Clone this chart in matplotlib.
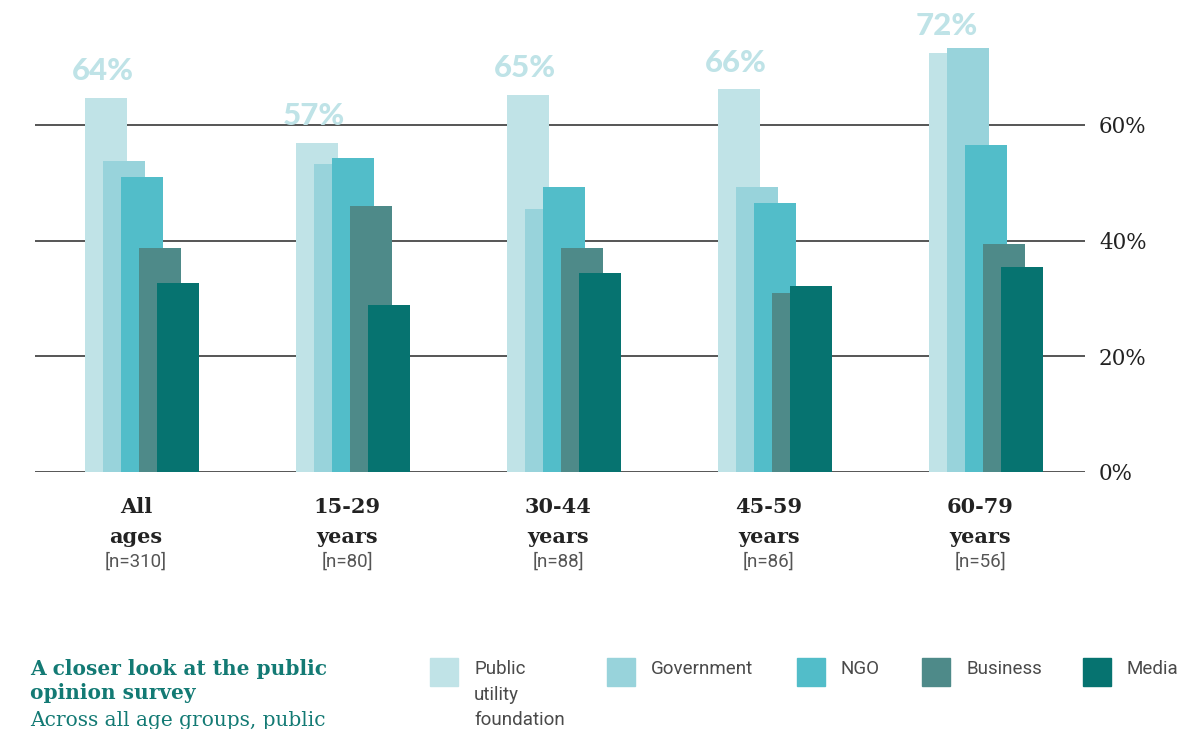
import numpy as np
import matplotlib.pyplot as plt

# data
groups = ["All\nages", "15-29\nyears", "30-44\nyears", "45-59\nyears", "60-79\nyears"]
sizes = ["[n=310]", "[n=80]", "[n=88]", "[n=86]", "[n=56]"]
series = ["Public\nutility\nfoundation", "Government", "NGO", "Business", "Media"]
public = [64.7, 56.9, 65.2, 66.2, 72.5]
government = [53.8, 53.3, 45.5, 49.3, 73.3]
ngo = [51.0, 54.3, 49.3, 46.5, 56.5]
business = [38.7, 46.0, 38.7, 31.0, 39.4]
media = [32.7, 28.9, 34.4, 32.2, 35.4]
top_labels = ["64%", "57%", "65%", "66%", "72%"]

colors = ["#c0e3e7", "#98d3db", "#52bdc9", "#4e8a89", "#067370"]
teal = "#137a74"
gap = 211.0  # px between groups

fig = plt.figure(figsize=(11.97, 7.29), dpi=100)
ax = fig.add_axes([35/1197, 1 - 472/729, 1050/1197, (472 - 9.3)/729])

x = np.arange(len(groups))
w = 42/gap
step = 18/gap
start = -57/gap
values = [public, government, ngo, business, media]
for k, vals in enumerate(values):
    ax.bar(x + start + k*step, vals, width=w, align="edge", color=colors[k],
           zorder=2 + k, linewidth=0)

# labels above the public utility bars
for i, lab in enumerate(top_labels):
    ax.annotate(lab, (x[i] + start + w/2, public[i]), xytext=(-2, 9),
                textcoords="offset points", ha="center", va="bottom",
                fontsize=22.5, fontweight="black", family="Lato", color="#bfe3e7")

for yv in [0, 20, 40, 60]:
    ax.axhline(yv, color="#555555", lw=1.4, zorder=1)

ax.set_xlim(-107/gap, 943/gap)
ax.set_ylim(0, 80)
ax.yaxis.tick_right()
ax.set_yticks([0, 20, 40, 60])
ax.set_yticklabels(["0%", "20%", "40%", "60%"], family="DejaVu Serif",
                   fontsize=15.5, color="#222222")
ax.tick_params(axis="y", length=0, pad=10)
ax.set_xticks([])
for s in ax.spines.values():
    s.set_visible(False)

# category labels under the groups
for i in range(len(groups)):
    cx = (142 + gap*i - 6)/1197
    fig.text(cx, 1 - 522/729, groups[i], ha="center", va="center",
             family="DejaVu Serif", fontweight="bold", fontsize=15,
             color="#222222", linespacing=1.6)
    fig.text(cx, 1 - 562/729, sizes[i], ha="center", va="center",
             family="Roboto", fontsize=13.5, color="#555555")

# text block bottom left (last line runs off the bottom, as in the source)
fig.text(30/1197, 1 - 681/729, "A closer look at the public\nopinion survey",
         ha="left", va="center", family="DejaVu Serif", fontweight="bold",
         fontsize=14.5, color=teal, linespacing=1.3)
fig.text(30/1197, 1 - 721/729, "Across all age groups, public", ha="left",
         va="center", family="DejaVu Serif", fontsize=14.5, color=teal)

# legend
sq_x = [430, 607, 797, 922, 1083]
for k in range(len(series)):
    fig.patches.append(plt.Rectangle((sq_x[k]/1197, 1 - 686/729), 28/1197, 28/729,
                                     transform=fig.transFigure, color=colors[k]))
    fig.text((sq_x[k] + 44)/1197, 1 - 660/729, series[k], ha="left", va="top",
             family="Roboto", fontsize=13.5, color="#4a4a4a",
             linespacing=1.55)

plt.savefig("out.png", dpi=100)
